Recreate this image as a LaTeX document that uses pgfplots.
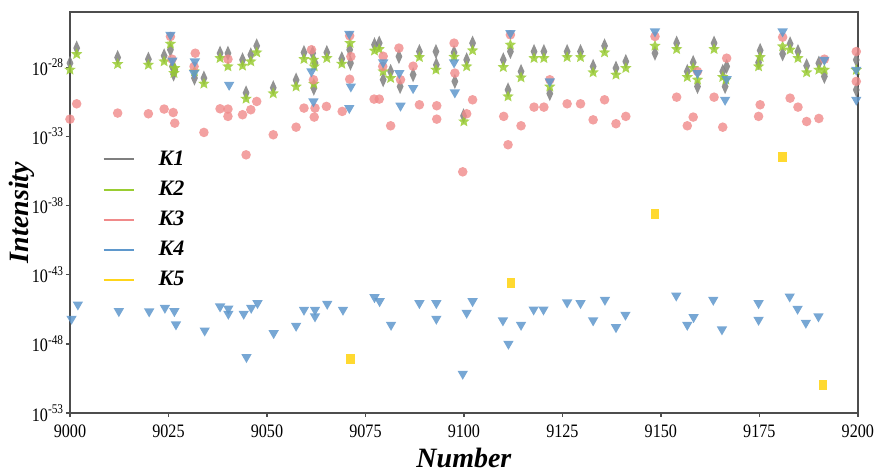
\documentclass[border=0pt]{standalone}
\usepackage{fontspec}
\setmainfont{Liberation Serif}
\usepackage{pgfplots}
\usepackage{pgfplotstable}
\pgfplotsset{compat=1.18}
\usetikzlibrary{plotmarks}

\definecolor{cK1}{HTML}{7F7F7F}
\definecolor{cK2}{HTML}{9ACD32}
\definecolor{cK3}{HTML}{F08A8A}
\definecolor{cK4}{HTML}{5F98CC}
\definecolor{cK5}{HTML}{FFD51A}
\definecolor{frame}{HTML}{4D4D4D}

\pgfdeclareplotmark{fstar}{%
  \pgfpathmoveto{\pgfpointpolar{90}{\pgfplotmarksize}}%
  \pgfpathlineto{\pgfpointpolar{126}{0.45\pgfplotmarksize}}%
  \pgfpathlineto{\pgfpointpolar{162}{\pgfplotmarksize}}%
  \pgfpathlineto{\pgfpointpolar{198}{0.45\pgfplotmarksize}}%
  \pgfpathlineto{\pgfpointpolar{234}{\pgfplotmarksize}}%
  \pgfpathlineto{\pgfpointpolar{270}{0.45\pgfplotmarksize}}%
  \pgfpathlineto{\pgfpointpolar{306}{\pgfplotmarksize}}%
  \pgfpathlineto{\pgfpointpolar{342}{0.45\pgfplotmarksize}}%
  \pgfpathlineto{\pgfpointpolar{18}{\pgfplotmarksize}}%
  \pgfpathlineto{\pgfpointpolar{54}{0.45\pgfplotmarksize}}%
  \pgfpathclose\pgfusepathqfill}

% log10 of intensity
\pgfplotstableread{
x lg
9000.0 -27.70
9001.7 -26.61
9012.1 -27.29
9019.9 -27.41
9023.9 -27.17
9025.5 -26.73
9026.0 -27.94
9026.3 -28.49
9026.6 -28.18
9031.6 -28.78
9034.0 -28.78
9038.1 -26.98
9040.1 -26.98
9043.8 -27.46
9044.7 -29.85
9045.9 -27.10
9047.4 -26.45
9051.6 -29.48
9057.4 -28.92
9059.4 -26.93
9061.6 -26.98
9061.9 -29.51
9062.2 -27.70
9065.2 -26.93
9069.0 -27.38
9071.0 -26.73
9071.2 -27.70
9077.3 -26.37
9078.5 -26.25
9079.5 -28.90
9081.4 -28.30
9083.5 -27.22
9083.8 -29.39
9087.1 -28.54
9088.7 -26.86
9092.9 -26.86
9093.0 -27.82
9097.5 -26.93
9097.7 -29.02
9099.9 -31.51
9100.7 -27.46
9102.2 -26.25
9110.0 -27.46
9111.2 -29.63
9111.8 -26.86
9114.5 -28.30
9117.8 -26.86
9120.3 -26.86
9121.8 -29.90
9126.2 -26.86
9129.6 -26.86
9132.8 -27.94
9135.7 -26.45
9138.6 -28.06
9141.1 -27.58
9148.5 -26.98
9154.0 -26.25
9156.7 -28.30
9158.2 -27.65
9159.3 -29.39
9163.5 -26.25
9165.7 -28.30
9166.3 -29.39
9166.7 -27.94
9175.2 -26.78
9174.8 -27.65
9180.9 -27.03
9182.8 -26.30
9184.8 -26.86
9187.0 -27.89
9190.1 -27.70
9191.5 -28.66
9199.6 -27.46
9199.6 -29.63
}\kone

\pgfplotstableread{
x lg
9000.0 -28.18
9001.7 -27.05
9012.1 -27.77
9019.9 -27.82
9023.9 -27.58
9025.5 -26.30
9026.6 -28.06
9026.4 -28.42
9031.6 -28.30
9034.0 -29.19
9038.1 -27.34
9040.1 -27.94
9043.8 -27.89
9044.7 -30.28
9045.9 -27.58
9047.4 -26.93
9051.6 -29.89
9057.4 -29.40
9059.4 -27.41
9061.8 -27.46
9062.0 -27.94
9061.9 -29.20
9065.2 -27.34
9069.0 -27.75
9071.1 -26.25
9077.3 -26.80
9078.5 -26.69
9079.5 -28.30
9081.4 -28.78
9088.7 -27.27
9092.9 -28.18
9097.5 -27.25
9100.0 -31.92
9100.7 -27.94
9102.2 -26.78
9110.0 -27.99
9111.2 -30.11
9111.8 -26.37
9114.5 -28.74
9117.8 -27.34
9120.3 -27.34
9121.8 -29.40
9126.2 -27.27
9129.6 -27.27
9132.8 -28.37
9135.7 -26.93
9138.6 -28.54
9141.1 -28.06
9148.5 -26.45
9154.0 -26.69
9156.7 -28.71
9158.2 -28.06
9159.3 -28.90
9163.5 -26.69
9165.7 -28.71
9166.5 -28.90
9175.2 -27.27
9174.8 -27.94
9180.9 -26.49
9182.8 -26.73
9184.8 -27.34
9187.0 -28.37
9190.1 -28.18
9191.5 -28.18
9199.6 -28.20
}\ktwo

\pgfplotstableread{
x lg
9025.5 -25.77
9025.9 -27.41
9031.8 -26.98
9031.5 -27.94
9040.1 -27.41
9061.3 -26.73
9061.8 -28.90
9071.0 -25.72
9071.3 -27.22
9071.0 -28.86
9079.5 -27.20
9079.4 -27.94
9083.5 -26.61
9083.9 -28.90
9087.1 -27.92
9097.5 -26.25
9097.7 -28.42
9111.8 -25.65
9121.8 -28.90
9148.5 -25.77
9159.3 -28.30
9166.7 -27.34
9180.9 -25.82
9191.5 -27.41
9199.6 -26.86
9199.6 -29.02
9000.0 -31.75
9001.7 -30.64
9012.1 -31.31
9019.9 -31.36
9023.9 -31.02
9026.2 -31.27
9026.6 -32.04
9034.0 -32.71
9038.1 -31.00
9040.1 -31.02
9040.1 -31.55
9043.8 -31.43
9044.7 -34.33
9045.9 -31.07
9047.4 -30.47
9051.6 -32.88
9057.4 -32.33
9059.4 -30.95
9062.2 -30.95
9062.0 -31.60
9065.1 -30.83
9069.1 -31.19
9077.2 -30.30
9078.5 -30.30
9081.4 -32.23
9088.7 -30.71
9093.1 -30.78
9093.1 -31.75
9102.2 -30.35
9099.7 -35.56
9100.7 -31.36
9110.1 -31.55
9111.2 -33.60
9114.5 -32.23
9117.8 -30.88
9120.3 -30.88
9126.2 -30.64
9129.6 -30.64
9132.8 -31.80
9135.7 -30.35
9138.6 -32.08
9141.1 -31.55
9154.0 -30.16
9156.7 -32.23
9158.2 -31.60
9163.5 -30.16
9165.7 -32.33
9175.2 -30.71
9174.8 -31.55
9182.8 -30.23
9184.8 -30.88
9187.0 -31.92
9190.1 -31.70
}\kthree

\pgfplotstableread{
x lg
9025.5 -25.65
9026.0 -27.51
9031.7 -27.58
9031.5 -28.42
9040.4 -29.27
9061.3 -28.30
9061.8 -30.47
9070.9 -25.58
9071.3 -29.39
9070.9 -30.95
9079.5 -27.65
9083.6 -28.42
9083.9 -30.78
9087.1 -29.51
9097.5 -27.65
9097.7 -29.82
9111.8 -25.53
9121.8 -29.02
9148.5 -25.41
9159.3 -28.42
9166.7 -28.85
9166.3 -30.35
9180.9 -25.41
9191.5 -27.46
9199.6 -28.18
9199.6 -30.35
9000.4 -46.19
9002.0 -45.16
9012.4 -45.64
9020.1 -45.66
9024.1 -45.40
9026.5 -45.64
9026.9 -46.60
9034.2 -47.04
9038.1 -45.30
9040.2 -45.45
9040.2 -45.83
9044.1 -45.83
9044.8 -48.96
9046.0 -45.40
9047.6 -45.06
9051.7 -47.23
9057.4 -46.70
9059.4 -45.54
9062.2 -45.54
9062.2 -46.02
9065.3 -45.11
9069.3 -45.54
9077.3 -44.63
9078.6 -44.92
9081.5 -46.63
9088.7 -45.06
9093.0 -45.06
9093.0 -46.19
9099.7 -50.17
9100.7 -45.76
9102.2 -44.92
9109.9 -46.31
9111.3 -48.00
9114.5 -46.63
9117.7 -45.52
9120.2 -45.52
9126.2 -45.01
9129.6 -45.06
9132.8 -46.31
9135.8 -44.82
9138.6 -46.80
9141.0 -45.90
9153.9 -44.51
9156.7 -46.63
9158.3 -46.07
9163.3 -44.82
9165.5 -46.96
9174.8 -45.06
9174.8 -46.27
9182.7 -44.58
9184.7 -45.47
9186.8 -46.48
9190.0 -46.02
}\kfour

\pgfplotstableread{
x lg
9071.2 -49.13
9111.9 -43.61
9148.5 -38.59
9180.9 -34.47
9191.2 -51.01
}\kfive

\begin{document}
\begin{tikzpicture}
\begin{axis}[
  scale only axis, width=394pt, height=200.5pt,
  xmin=9000, xmax=9200,
  ymode=log, ymin=1e-53, ymax=1e-24,
  xtick={9000,9025,9050,9075,9100,9125,9150,9175,9200},
  xticklabel={\pgfmathprintnumber[assume math mode=true,1000 sep={}]{\tick}},
  ytick={1e-53,1e-48,1e-43,1e-38,1e-33,1e-28},
  yticklabels={10\textsuperscript{-53},10\textsuperscript{-48},10\textsuperscript{-43},10\textsuperscript{-38},10\textsuperscript{-33},10\textsuperscript{-28}},
  yminorticks=false, minor y tick num=0,
  tick label style={font=\fontsize{9.5}{11}\selectfont, text=black, xscale=0.85},
  yticklabel style={inner xsep=1pt},
  xticklabel style={inner xsep=0pt, inner ysep=4pt},
  xtick pos=bottom, ytick pos=left, tick align=outside,
  major tick length=2pt,
  tick style={frame, line width=0.7pt},
  axis line style={frame, line width=1pt},
  xlabel={Number}, ylabel={Intensity},
  every axis x label/.style={at={(axis description cs:0.5,-0.112)}, anchor=center,
    font=\fontsize{14}{16}\selectfont\bfseries\itshape},
  every axis y label/.style={at={(axis description cs:-0.061,0.5)}, anchor=center, rotate=90,
    font=\fontsize{14}{16}\selectfont\bfseries\itshape},
  legend image code/.code={\draw[#1] (0pt,0pt) -- (15pt,0pt);},
  legend style={draw=none, fill=none, at={(axis description cs:0.041,0.665)}, anchor=north west,
    font=\fontsize{11}{13}\selectfont\bfseries\itshape, row sep=2.3pt, inner sep=0pt,
    /tikz/every odd column/.append style={column sep=10pt}},
  legend cell align=left,
]
\addplot[only marks, mark=diamond*, mark size=3.8pt, color=cK1,
  mark options={xscale=0.6, fill opacity=0.85, draw opacity=0}, forget plot]
  table[x=x, y expr=10^(\thisrow{lg})]{\kone};
\addplot[only marks, mark=fstar, mark size=3pt, color=cK2,
  mark options={fill opacity=0.85, draw opacity=0}, forget plot]
  table[x=x, y expr=10^(\thisrow{lg})]{\ktwo};
\addplot[only marks, mark=*, mark size=2.4pt, color=cK3,
  mark options={fill opacity=0.8, draw opacity=0}, forget plot]
  table[x=x, y expr=10^(\thisrow{lg})]{\kthree};
\addplot[only marks, mark=triangle*, mark size=3pt, color=cK4,
  mark options={rotate=180, fill opacity=0.85, draw opacity=0}, forget plot]
  table[x=x, y expr=10^(\thisrow{lg})]{\kfour};
\addplot[only marks, mark=square*, mark size=2.1pt, color=cK5,
  mark options={yscale=1.2, fill opacity=0.9, draw opacity=0}, forget plot]
  table[x=x, y expr=10^(\thisrow{lg})]{\kfive};
\addlegendimage{cK1, line width=1pt}\addlegendentry{K1}
\addlegendimage{cK2, line width=1pt}\addlegendentry{K2}
\addlegendimage{cK3, line width=1pt}\addlegendentry{K3}
\addlegendimage{cK4, line width=1pt}\addlegendentry{K4}
\addlegendimage{cK5, line width=1pt}\addlegendentry{K5}
\end{axis}
\path ([xshift=-35pt,yshift=-29.5pt]current axis.south west) rectangle ([xshift=8pt,yshift=6pt]current axis.north east);
\end{tikzpicture}
\end{document}
